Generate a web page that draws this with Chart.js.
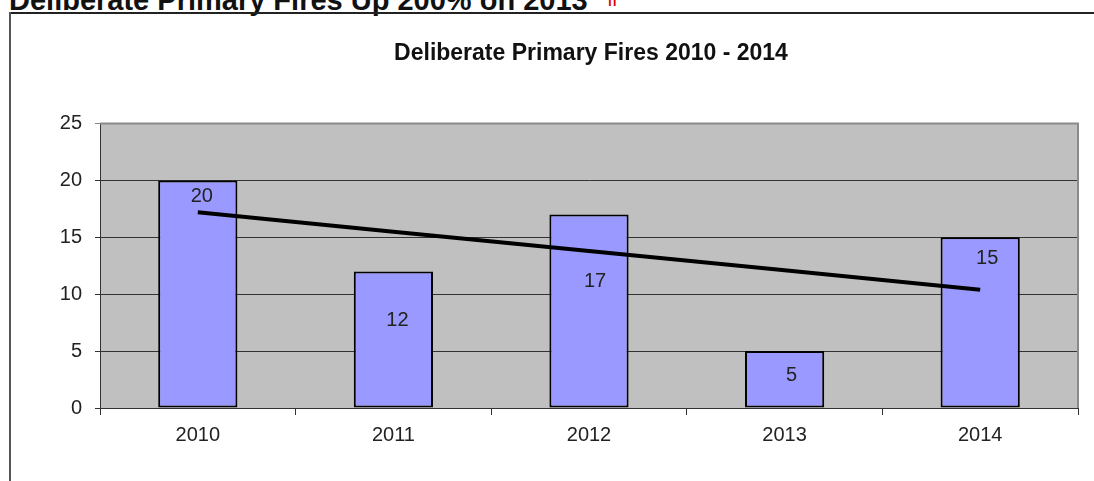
<!DOCTYPE html>
<html>
<head>
<meta charset="utf-8">
<script src="https://cdn.jsdelivr.net/npm/chart.js@4"></script>
<style>
  html, body { margin: 0; padding: 0; width: 1094px; height: 481px; overflow: hidden; background: #fff; }
  #heading { position: absolute; left: 9px; top: -15px; font: bold 29px "Liberation Sans", Arial, sans-serif; line-height: 29px; color: #111; white-space: nowrap; }
  #heading .arrow { color: #e00000; margin-left: 12px; font-size: 30px; font-family: "DejaVu Sans", sans-serif; font-weight: normal; position: relative; top: -4px; }
  #frameTop { position: absolute; left: 9px; top: 12px; width: 1090px; height: 2px; background: #222; }
  #frameLeft { position: absolute; left: 9px; top: 12px; width: 2px; height: 480px; background: #555; }
  #wrap { position: absolute; left: 10px; top: 12px; width: 1162px; height: 469px; }
</style>
</head>
<body>
<div id="heading">Deliberate Primary Fires Up 200% on 2013<span class="arrow">⇑</span></div>
<div id="frameTop"></div>
<div id="frameLeft"></div>
<div id="wrap"><canvas id="c" width="1162" height="469"></canvas></div>
<script>
const categories = ["2010", "2011", "2012", "2013", "2014"];
const fires = [20, 12, 17, 5, 15];
const trend = [17.2, 15.5, 13.8, 12.1, 10.4];
const yTicks = [0, 5, 10, 15, 20, 25];

const FONT = '"Liberation Sans", Arial, sans-serif';

const plotBg = {
  id: 'plotBg',
  beforeDraw(chart) {
    const a = chart.chartArea, ctx = chart.ctx;
    ctx.save();
    ctx.fillStyle = '#c0c0c0';
    ctx.fillRect(a.left, a.top, a.right - a.left, a.bottom - a.top);
    ctx.restore();
  },
  afterDatasetsDraw(chart) {
    const a = chart.chartArea, ctx = chart.ctx;
    ctx.save();
    ctx.strokeStyle = '#8a8a8a';
    ctx.lineWidth = 2;
    ctx.beginPath();
    ctx.moveTo(a.left, a.top);
    ctx.lineTo(a.right, a.top);
    ctx.lineTo(a.right, a.bottom);
    ctx.stroke();
    ctx.restore();
  }
};

const barLabels = {
  id: 'barLabels',
  afterDraw(chart, args, opts) {
    const meta = chart.getDatasetMeta(1);
    const ctx = chart.ctx;
    ctx.save();
    ctx.font = '20px ' + FONT;
    ctx.fillStyle = '#222';
    ctx.textAlign = 'center';
    ctx.textBaseline = 'middle';
    meta.data.forEach((bar, i) => {
      ctx.fillText(String(fires[i]), bar.x + opts.dx[i], bar.y + opts.dy[i]);
    });
    ctx.restore();
  }
};

new Chart(document.getElementById('c'), {
  data: {
    labels: categories,
    datasets: [
      {
        type: 'line',
        data: trend,
        borderColor: '#000',
        borderWidth: 4,
        pointRadius: 0,
        fill: false,
        tension: 0,
        order: 0
      },
      {
        type: 'bar',
        data: fires,
        backgroundColor: '#9999ff',
        borderColor: '#000',
        borderWidth: 2,
        borderSkipped: false,
        barPercentage: 0.405,
        categoryPercentage: 1.0,
        order: 1
      }
    ]
  },
  options: {
    responsive: false,
    animation: false,
    devicePixelRatio: 1,
    layout: { padding: 0 },
    plugins: {
      legend: { display: false },
      tooltip: { enabled: false },
      title: {
        display: true,
        text: 'Deliberate Primary Fires 2010 - 2014',
        color: '#111',
        font: { family: FONT, size: 23, weight: 'bold', lineHeight: 1.2 },
        padding: { top: 28, bottom: 56 }
      },
      barLabels: { dx: [4, 4, 6, 7, 7], dy: [16, 49, 67, 24, 21] }
    },
    scales: {
      x: {
        offset: true,
        grid: { offset: true, drawOnChartArea: false, color: '#333', tickLength: 7, lineWidth: 1 },
        border: { color: '#333', width: 1 },
        ticks: { color: '#222', font: { family: FONT, size: 20 }, padding: 8, maxRotation: 0 },
        afterFit(scale) { scale.height = 73; }
      },
      y: {
        min: 0, max: 25,
        afterBuildTicks(scale) { scale.ticks = yTicks.map(v => ({ value: v })); },
        grid: {
          color: (c) => c.tick && c.tick.value === 25 ? '#8a8a8a' : '#333',
          tickLength: 5,
          lineWidth: 1
        },
        border: { color: '#333', width: 1 },
        ticks: { color: '#222', font: { family: FONT, size: 20 }, padding: 13 },
        afterFit(scale) { scale.width = 90; }
      },
      spacer: {
        position: 'right',
        display: true,
        grid: { display: false, drawTicks: false },
        border: { display: false },
        ticks: { display: false },
        afterFit(scale) { scale.width = 94; }
      }
    }
  },
  plugins: [plotBg, barLabels]
});
</script>
</body>
</html>
